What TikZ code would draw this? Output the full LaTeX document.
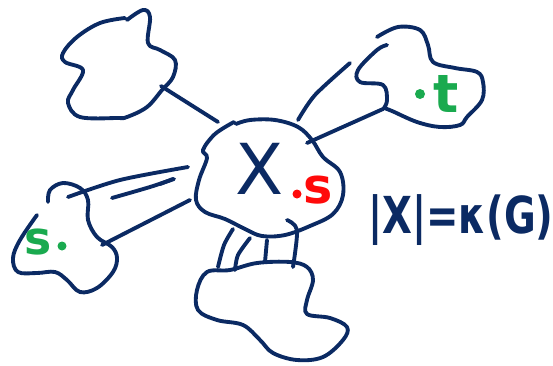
\documentclass[tikz,border=0pt]{standalone}
\usepackage{fontspec}
\usepackage{graphicx}
\setmainfont{DejaVu Sans}
\definecolor{ink}{HTML}{0B2A63}
\definecolor{inkgreen}{HTML}{1AAA4F}
\definecolor{inkred}{HTML}{FF0A0A}
\begin{document}
\begin{tikzpicture}[x=0.02cm, y=-0.02cm,
    pen/.style={draw=ink, line width=2.2pt, line cap=round, line join=round},
    blob/.style={pen, smooth, tension=0.6}]
    \useasboundingbox (0,0) rectangle (553,365);

    % Mittelteil X
    \draw[blob] plot[smooth] coordinates {(234,122) (215,134) (203,150) (207,158) (199,180) (196,200) (205,212) (225,219) (245,229) (262,236) (285,235) (310,226) (333,214) (343,195) (340,172) (323,157) (312,140) (298,127) (275,120) (250,120) (236,124)};
    \node[font=\fontsize{40}{40}\selectfont, text=ink] (X) at (260,169) {X};
    \fill[inkred] (297,194) circle (4.5);
    \node[text=inkred, font=\bfseries\fontsize{28}{28}\selectfont] (s1) at (318,190) {s};

    % oben links
    \draw[blob] plot[smooth] coordinates {(127,20) (143,10) (150,17) (148,43) (160,50) (175,60) (173,77) (162,90) (147,107) (127,117) (117,118) (80,117) (68,103) (73,90) (83,70) (65,62) (63,53) (77,37) (100,23) (125,18)};
    \draw[pen] (161,86) -- (218,122);

    % oben rechts
    \draw[blob] plot[smooth] coordinates {(387,45) (377,50) (358,70) (360,82) (383,85) (387,100) (384,108)};
    \draw[blob] plot[smooth] coordinates {(377,37) (398,27) (420,30) (428,45) (433,62) (455,68) (477,72) (483,82) (482,100) (467,117) (460,125) (440,127) (417,122) (392,111) (384,108)};
    \fill[inkgreen] (420,94) circle (5);
    \node[text=inkgreen, font=\bfseries\fontsize{30}{30}\selectfont] (t) at (446,94) {t};
    \draw[pen] (307,143) -- (383,109);
    \draw[pen] plot[smooth] coordinates {(298,120) (315,95) (350,63)};

    % links
    \draw[blob] plot[smooth] coordinates {(37,215) (20,240) (13,258) (18,272) (37,273) (55,272) (67,280) (80,292) (97,288) (113,272) (117,258) (112,247) (97,237) (88,220) (88,200) (80,188) (63,183) (50,190) (48,202)};
    \fill[inkgreen] (62,246) circle (4.5);
    \node[text=inkgreen, font=\bfseries\fontsize{26}{26}\selectfont] (s2) at (38,242) {s};
    \draw[pen] plot[smooth] coordinates {(68,197) (120,180) (188,167)};
    \draw[pen] plot[smooth] coordinates {(112,198) (150,187) (174,179)};
    \draw[pen] (160,184) -- (173,179);
    \draw[pen] (102,245) -- (190,200);

    % unten
    \draw[blob] plot[smooth cycle] coordinates {(230,270) (207,272) (197,290) (198,310) (217,320) (243,325) (260,340) (273,353) (297,360) (323,357) (343,340) (347,327) (330,318) (307,314) (307,300) (313,280) (307,267) (290,262) (257,263)};
    \draw[pen] plot[smooth] coordinates {(233,229) (224,245) (218,267)};
    \draw[pen] plot[smooth] coordinates {(250,238) (238,255) (235,270)};
    \draw[pen] (267,240) -- (265,262);
    \draw[pen] plot[smooth] coordinates {(287,220) (297,230) (293,267)};

    % Formel
    \node[text=ink, font=\bfseries\fontsize{29}{29}\selectfont, inner sep=0pt] (formel) at (461,220) {\scalebox{0.76}[1]{|X|=κ(G)}};
\end{tikzpicture}
\end{document}
